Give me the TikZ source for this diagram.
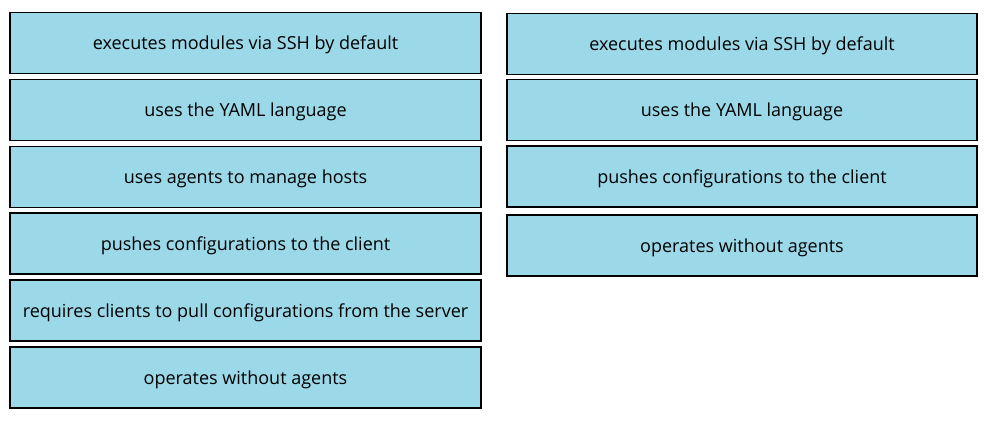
\documentclass[tikz,border=0pt]{standalone}
\usepackage{fontspec}
\setmainfont{Open Sans}
\usepackage{tikz}
\usetikzlibrary{positioning}
\definecolor{tilecyan}{RGB}{155,217,233}

\begin{document}
\begin{tikzpicture}[x=1pt,y=-1pt,
    tile/.style={draw=black, line width=1.3pt, fill=tilecyan, minimum height=61pt,
        inner sep=0pt, font=\fontsize{18}{21}\selectfont, text depth=0pt, anchor=center},
    lefttile/.style={tile, minimum width=471pt},
    righttile/.style={tile, minimum width=470pt}]
    \useasboundingbox (0,0) rectangle (994,423);
    % left column
    \node[lefttile] (l1) at (245.5,43) {executes modules via SSH by default};
    \node[lefttile] (l2) at (245.5,110) {uses the YAML language};
    \node[lefttile] (l3) at (245.5,177) {uses agents to manage hosts};
    \node[lefttile] (l4) at (245.5,243.5) {pushes configurations to the client};
    \node[lefttile] (l5) at (245.5,310.5) {requires clients to pull configurations from the server};
    \node[lefttile] (l6) at (245.5,377.5) {operates without agents};
    % right column
    \node[righttile] (r1) at (742,44) {executes modules via SSH by default};
    \node[righttile] (r2) at (742,110) {uses the YAML language};
    \node[righttile] (r3) at (742,176.5) {pushes configurations to the client};
    \node[righttile] (r4) at (742,245.5) {operates without agents};
\end{tikzpicture}
\end{document}
